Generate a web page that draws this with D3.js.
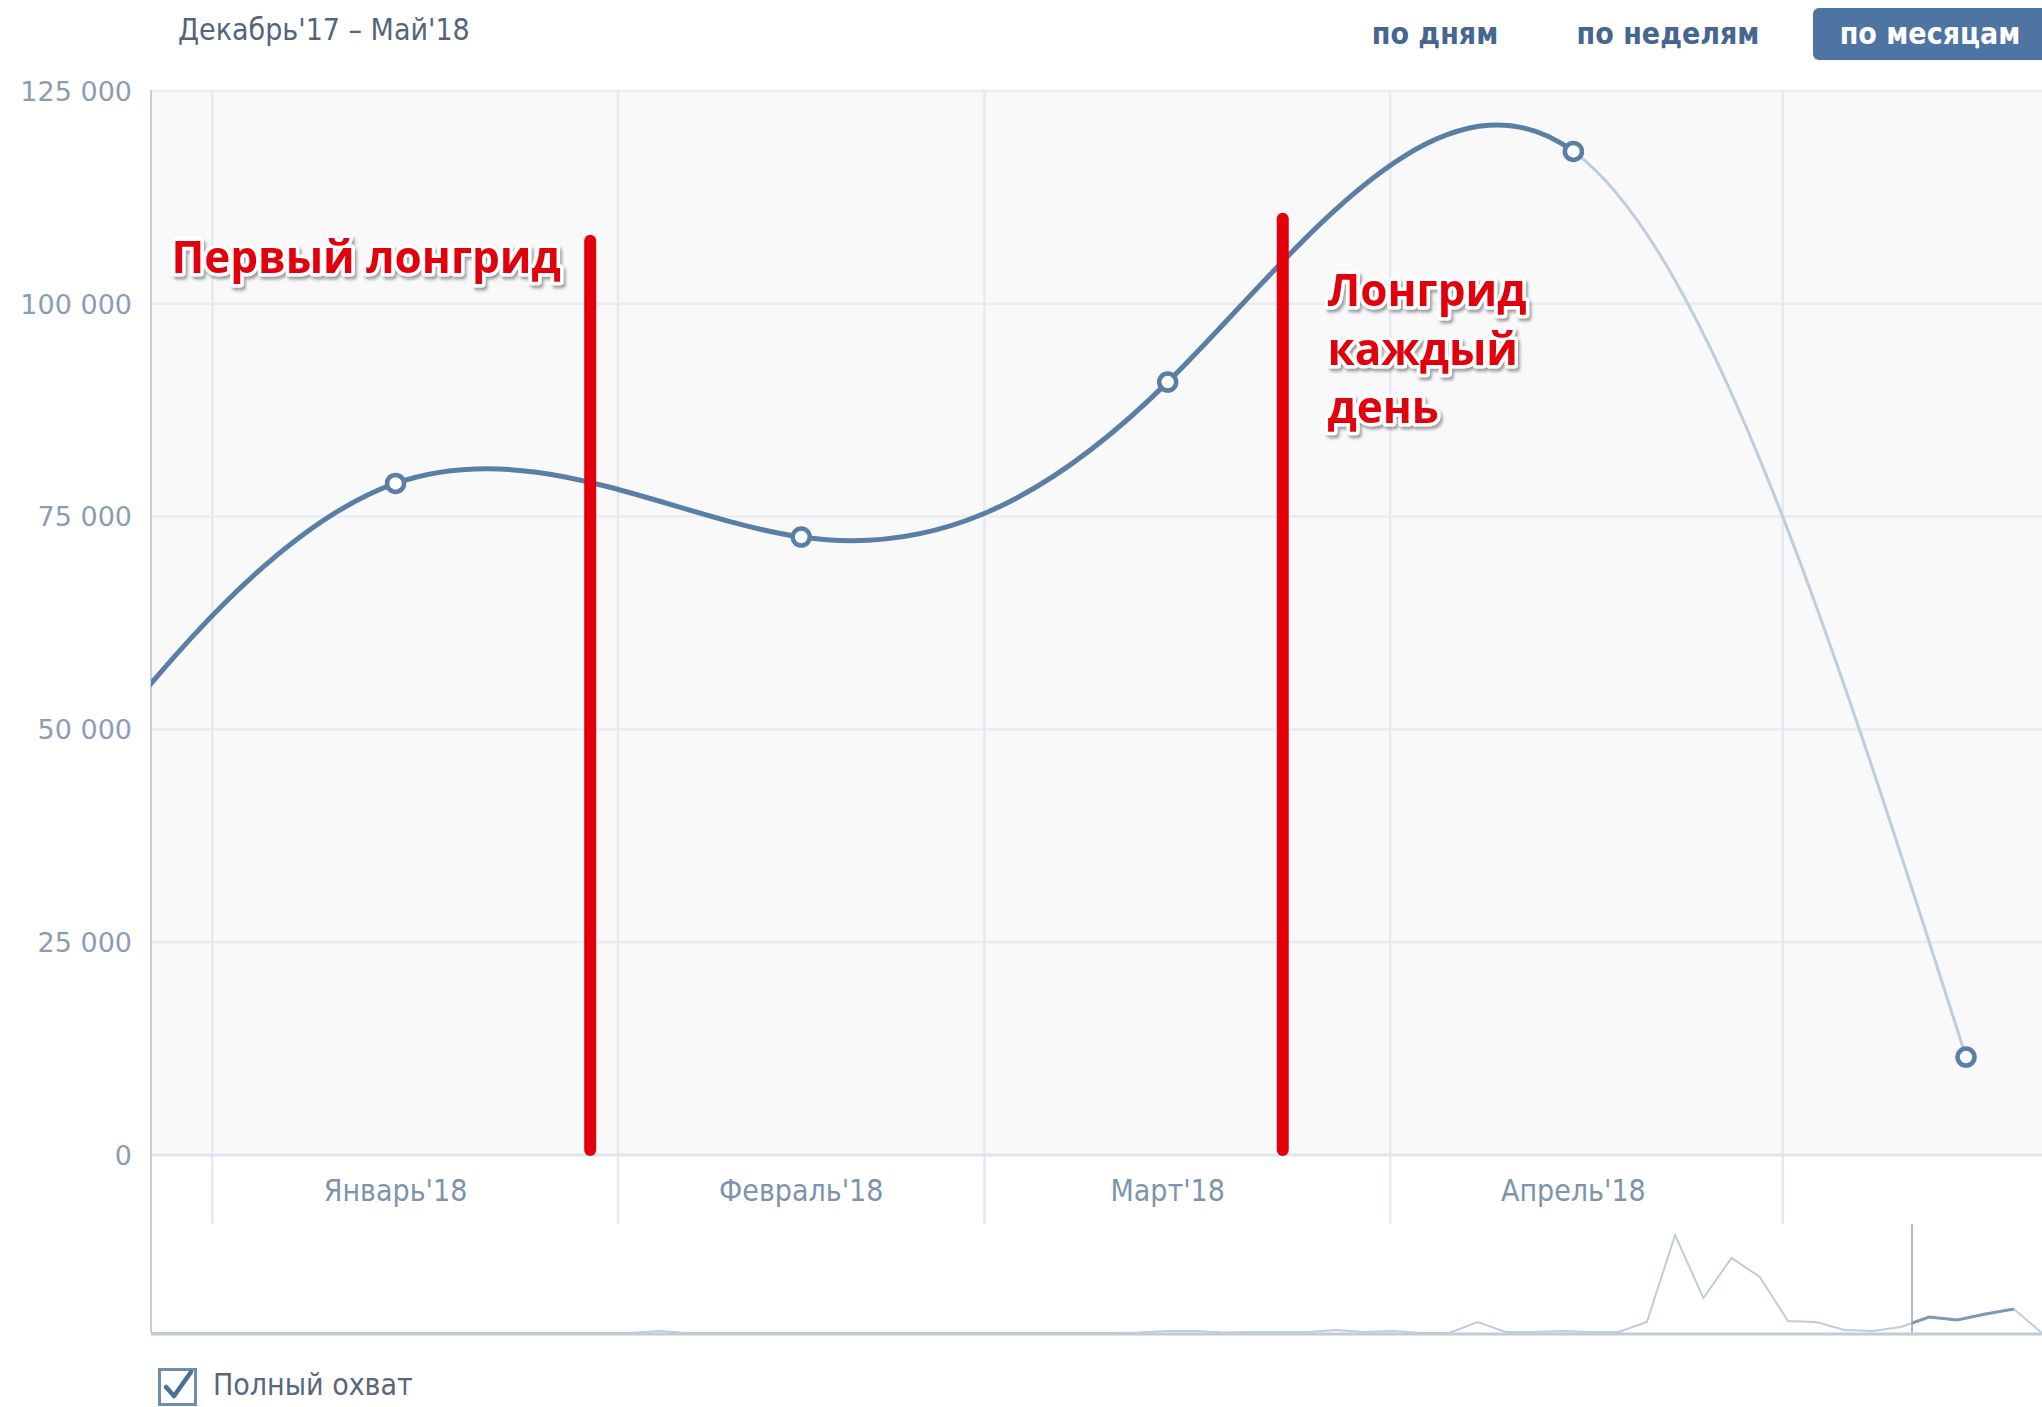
<!DOCTYPE html>
<html>
<head>
<meta charset="utf-8">
<script src="https://cdn.jsdelivr.net/npm/d3@7"></script>
<style>
  body { margin: 0; background: #fff; }
  svg { display: block; }
  .tick-y { font-family: "DejaVu Sans", sans-serif; font-size: 27px; fill: #8a9db4; }
  .tick-x { font-family: "DejaVu Sans", sans-serif; font-stretch: condensed; font-size: 30px; fill: #7e93ac; }
  .note { font-family: "Open Sans", sans-serif; font-weight: 700; font-size: 44px; fill: #e3000b;
          stroke: #fff; stroke-width: 7px; stroke-linejoin: round; paint-order: stroke; }
</style>
</head>
<body>
<div id="chart"></div>
<script>
// охват по месяцам (точки стоят на середине месяца)
const pointDates = ["2017-12-15", "2018-01-15", "2018-02-15", "2018-03-15", "2018-04-15", "2018-05-15"];
const reach = [31000, 78900, 72600, 90800, 117900, 11500];

// подписи месяцев под осью
const monthLabels = ["Январь'18", "Февраль'18", "Март'18", "Апрель'18"];
const monthLabelDates = ["2018-01-15", "2018-02-15", "2018-03-15", "2018-04-15"];
const monthStarts = ["2018-01-01", "2018-02-01", "2018-03-01", "2018-04-01", "2018-05-01"];

const yTicks = [0, 25000, 50000, 75000, 100000, 125000];

// красные отметки
const markDates = ["2018-01-29T21:00Z", "2018-03-23T19:00Z"];
const markTops = [107400, 110000];
const noteLines = [["Первый лонгрид"], ["Лонгрид", "каждый", "день"]];
const noteDates = ["2017-12-28T21:00Z", "2018-03-27T05:00Z"];
const noteValues = [103600, 99700];

// мини-график внизу (по неделям)
const navReach = [0, 0, 0, 0, 0, 0, 0, 0, 0, 0, 0, 0, 0, 0, 0, 0, 0, 0, 2, 0,
                  0, 0, 0, 0, 0, 0, 0, 0, 0, 0, 0, 0, 0, 0, 0, 0.5, 2, 2, 0.5, 1,
                  1, 1, 3, 1, 2, 0, 0, 11, 1, 1, 2, 1, 1, 11, 98, 35, 75, 56, 12, 11,
                  3, 2, 6, 16, 13, 19, 24, 0];

const W = 2042, H = 1407;
const plotLeft = 151, plotRight = W, plotTop = 90, plotBottom = 1155;
const labelBottom = 1224, navBottom = 1333;

const parse = s => new Date(s.length === 10 ? s + "T00:00Z" : s);

const svg = d3.select("#chart").append("svg").attr("width", W).attr("height", H);

const x = d3.scaleUtc()
    .domain([parse("2018-01-01"), parse("2018-05-01")])
    .range([212.3, 1782.8]);
const y = d3.scaleLinear().domain([0, 125000]).range([plotBottom, plotTop + 1]);

const fmt = d3.formatLocale({ decimal: ",", thousands: " ", grouping: [3], currency: ["", ""] }).format(",");

// фон области графика
svg.append("rect").attr("x", plotLeft).attr("y", plotTop)
    .attr("width", plotRight - plotLeft).attr("height", plotBottom - plotTop).attr("fill", "#f9f9fa");

// сетка
svg.append("g").selectAll("line").data(yTicks.filter(d => d > 0)).enter().append("line")
    .attr("x1", plotLeft).attr("x2", plotRight)
    .attr("y1", d => y(d)).attr("y2", d => y(d))
    .attr("stroke", "#e9edf2").attr("stroke-width", 2.5);

svg.append("g").selectAll("line").data(monthStarts).enter().append("line")
    .attr("x1", d => x(parse(d))).attr("x2", d => x(parse(d)))
    .attr("y1", plotTop).attr("y2", labelBottom)
    .attr("stroke", "#e6eaf0").attr("stroke-width", 2.5);

// линия нуля и левая ось
svg.append("line").attr("x1", plotLeft).attr("x2", plotRight).attr("y1", plotBottom).attr("y2", plotBottom)
    .attr("stroke", "#dfe5ec").attr("stroke-width", 3);
svg.append("line").attr("x1", plotLeft).attr("x2", plotLeft).attr("y1", plotTop).attr("y2", navBottom)
    .attr("stroke", "#c3cedb").attr("stroke-width", 2);

// подписи оси Y
svg.append("g").selectAll("text").data(yTicks).enter().append("text")
    .attr("class", "tick-y")
    .attr("x", 132).attr("y", d => y(d)).attr("dy", "0.36em")
    .attr("text-anchor", "end")
    .text(d => fmt(d));

// подписи месяцев
svg.append("g").selectAll("text").data(monthLabels).enter().append("text")
    .attr("class", "tick-x")
    .attr("x", (d, i) => x(parse(monthLabelDates[i])))
    .attr("y", 1190).attr("dy", "0.36em")
    .attr("text-anchor", "middle")
    .text(d => d);

// кривая охвата
const pts = reach.map((v, i) => ({ date: parse(pointDates[i]), v }));
const line = d3.line().x(d => x(d.date)).y(d => y(d.v)).curve(d3.curveNatural);
const lastFull = x(pts[4].date);

const defs = svg.append("defs");
defs.append("clipPath").attr("id", "clipDone").append("rect")
    .attr("x", plotLeft).attr("y", 0).attr("width", lastFull - plotLeft).attr("height", plotBottom + 10);
defs.append("clipPath").attr("id", "clipPart").append("rect")
    .attr("x", lastFull).attr("y", 0).attr("width", plotRight - lastFull).attr("height", plotBottom + 10);

svg.append("path").datum(pts).attr("d", line).attr("clip-path", "url(#clipPart)")
    .attr("fill", "none").attr("stroke", "#bfcddc").attr("stroke-width", 3);
svg.append("path").datum(pts).attr("d", line).attr("clip-path", "url(#clipDone)")
    .attr("fill", "none").attr("stroke", "#5a7ea6").attr("stroke-width", 5);

svg.append("g").selectAll("circle").data(pts.slice(1)).enter().append("circle")
    .attr("cx", d => x(d.date)).attr("cy", d => y(d.v)).attr("r", 8.5)
    .attr("fill", "#fff").attr("stroke", "#5a7ea6").attr("stroke-width", 4.5);

// красные линии
svg.append("g").selectAll("line").data(markDates).enter().append("line")
    .attr("x1", d => x(parse(d))).attr("x2", d => x(parse(d)))
    .attr("y1", (d, i) => y(markTops[i])).attr("y2", plotBottom - 5)
    .attr("stroke", "#e3000b").attr("stroke-width", 12).attr("stroke-linecap", "round");

// подписи к отметкам
const shadow = defs.append("filter").attr("id", "shadow")
    .attr("x", "-10%").attr("y", "-20%").attr("width", "130%").attr("height", "160%");
shadow.append("feDropShadow").attr("dx", 2).attr("dy", 3).attr("stdDeviation", 1.5)
    .attr("flood-color", "#555").attr("flood-opacity", 0.55);

noteLines.forEach((lines, i) => {
    const t = svg.append("text").attr("class", "note").attr("filter", "url(#shadow)");
    lines.forEach((s, j) => {
        t.append("tspan")
            .attr("x", x(parse(noteDates[i])))
            .attr("y", y(noteValues[i]) + j * 58.5)
            .text(s);
    });
});

// мини-график
const nx = d3.scaleLinear().domain([0, navReach.length - 1]).range([plotLeft, plotRight]);
const ny = d3.scaleLinear().domain([0, 100]).range([navBottom, navBottom - 100]);
const navLine = d3.line().x((d, i) => nx(i)).y(d => ny(d));

svg.append("path").datum(navReach).attr("d", navLine)
    .attr("fill", "none").attr("stroke", "#c0ccda").attr("stroke-width", 2);

const handle = 1912;
defs.append("clipPath").attr("id", "clipNav").append("rect")
    .attr("x", handle).attr("y", labelBottom).attr("width", nx(66) - handle).attr("height", 120);
svg.append("path").datum(navReach).attr("d", navLine).attr("clip-path", "url(#clipNav)")
    .attr("fill", "none").attr("stroke", "#7f98b7").attr("stroke-width", 3);

svg.append("line").attr("x1", handle).attr("x2", handle).attr("y1", labelBottom).attr("y2", navBottom)
    .attr("stroke", "#8fa3bb").attr("stroke-width", 1.5);
svg.append("line").attr("x1", plotLeft).attr("x2", plotRight).attr("y1", navBottom + 1).attr("y2", navBottom + 1)
    .attr("stroke", "#c1ccd9").attr("stroke-width", 3);

// шапка
svg.append("text").attr("x", 178).attr("y", 29).attr("dy", "0.36em")
    .attr("font-family", "DejaVu Sans, sans-serif").attr("font-stretch", "condensed")
    .attr("font-size", 30).attr("fill", "#546579")
    .text("Декабрь'17 – Май'18");

const periods = ["по дням", "по неделям", "по месяцам"];
const periodX = [1435, 1668, 1930];
svg.append("rect").attr("x", 1813).attr("y", 8).attr("width", 250).attr("height", 52)
    .attr("rx", 6).attr("fill", "#4d74a2");
svg.append("g").selectAll("text").data(periods).enter().append("text")
    .attr("x", (d, i) => periodX[i]).attr("y", 33).attr("dy", "0.36em")
    .attr("text-anchor", "middle")
    .attr("font-family", "DejaVu Sans, sans-serif").attr("font-stretch", "condensed")
    .attr("font-weight", "bold").attr("font-size", 30)
    .attr("fill", (d, i) => i === 2 ? "#fff" : "#45668e")
    .text(d => d);

// галочка "Полный охват"
const cb = svg.append("g").attr("transform", "translate(158,1368)");
cb.append("rect").attr("x", 1.5).attr("y", 1.5).attr("width", 36).attr("height", 35)
    .attr("fill", "#fff").attr("stroke", "#6f8db0").attr("stroke-width", 3);
cb.append("path").attr("d", "M8,19 L16,28 L33,4")
    .attr("fill", "none").attr("stroke", "#4d6f96").attr("stroke-width", 4.5)
    .attr("stroke-linejoin", "round").attr("stroke-linecap", "round");
svg.append("text").attr("x", 213).attr("y", 1384).attr("dy", "0.36em")
    .attr("font-family", "DejaVu Sans, sans-serif").attr("font-stretch", "condensed")
    .attr("font-size", 30).attr("fill", "#56687d")
    .text("Полный охват");
</script>
</body>
</html>
